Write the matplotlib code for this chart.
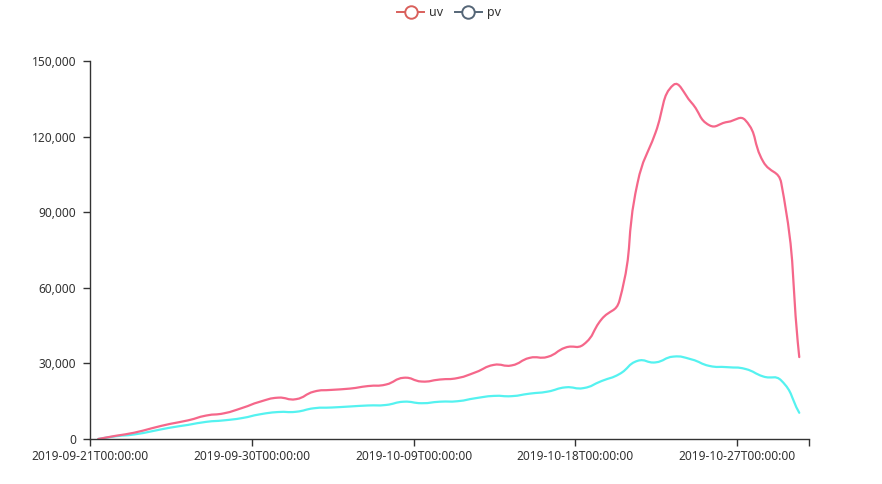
import numpy as np
import pandas as pd
import matplotlib
matplotlib.use("Agg")
import matplotlib.pyplot as plt
import matplotlib.dates as mdates
from matplotlib.path import Path
from matplotlib.patches import PathPatch
from matplotlib.lines import Line2D
from matplotlib.ticker import FuncFormatter

plt.rcParams['font.family'] = ['Noto Sans', 'DejaVu Sans']

# daily points (about 11:00 each day)
dates = pd.date_range("2019-09-21 11:00", periods=40, freq="D")

uv = [0, 1300, 2500, 4300, 6000, 7400, 9300, 10200, 12300, 14800,
      16400, 15800, 18800, 19500, 20000, 21000, 21600, 24300, 22800, 23600,
      24200, 26500, 29400, 29200, 32200, 32600, 36300, 37500, 47500, 55000,
      101500, 121500, 140500, 133500, 124500, 125800, 126500, 110000, 101500, 32500]
pv = [0, 1100, 1800, 3100, 4500, 5600, 6800, 7400, 8300, 9800,
      10700, 10800, 12200, 12500, 12900, 13300, 13500, 14800, 14200, 14800,
      15000, 16200, 17100, 17000, 18000, 18800, 20500, 20200, 23000, 25800,
      31000, 30400, 32700, 31600, 29000, 28500, 27800, 24800, 23200, 10400]

tick_dates = ["2019-09-21", "2019-09-30", "2019-10-09", "2019-10-18", "2019-10-27"]
x_min, x_max = "2019-09-21", "2019-10-31"
y_max = 150000

uv_col = "#f5678a"
pv_col = "#55f2f0"


def smooth_line(ax, xs, ys, sx, sy, color, smooth=0.5):
    # echarts-like bezier smoothing, computed in pixel-ish space
    p = np.column_stack([np.asarray(xs) * sx, np.asarray(ys, float) * sy])
    n = len(p)
    cin = np.zeros_like(p)
    cout = np.zeros_like(p)
    for i in range(n):
        prv = p[max(i - 1, 0)]
        nxt = p[min(i + 1, n - 1)]
        v = (nxt - prv) * smooth
        d0 = np.hypot(*(p[i] - prv))
        d1 = np.hypot(*(nxt - p[i]))
        r = d1 / (d0 + d1) if d0 + d1 > 0 else 0.5
        cin[i] = p[i] - v * (1 - r)
        cout[i] = p[i] + v * r
    verts = [p[0]]
    codes = [Path.MOVETO]
    for i in range(n - 1):
        verts += [cout[i], cin[i + 1], p[i + 1]]
        codes += [Path.CURVE4] * 3
    verts = np.array(verts) / [sx, sy]
    ax.add_patch(PathPatch(Path(verts, codes), fill=False, edgecolor=color,
                           lw=1.6, transform=ax.transData, capstyle="round"))


fig = plt.figure(figsize=(8.82, 4.84), dpi=100)
ax = fig.add_axes([90 / 882, 45 / 484, 719 / 882, 378 / 484])

xn = mdates.date2num(dates)
x0 = mdates.date2num(pd.Timestamp(x_min))
x1 = mdates.date2num(pd.Timestamp(x_max))
ax.set_xlim(x0, x1)
ax.set_ylim(0, y_max)

sx = 719 / (x1 - x0)
sy = 378 / y_max
smooth_line(ax, xn, pv, sx, sy, pv_col)
smooth_line(ax, xn, uv, sx, sy, uv_col)

ticks = [mdates.date2num(pd.Timestamp(d)) for d in tick_dates] + [x1]
ax.set_xticks(ticks)
ax.set_xticklabels([d + "T00:00:00" for d in tick_dates] + [""])
ax.set_yticks(np.arange(0, y_max + 1, 30000))
ax.yaxis.set_major_formatter(FuncFormatter(lambda v, _: f"{int(v):,}"))

for s in ["top", "right"]:
    ax.spines[s].set_visible(False)
for s in ["left", "bottom"]:
    ax.spines[s].set_color("#333333")
    ax.spines[s].set_linewidth(1)
ax.tick_params(axis="both", colors="#333333", length=5, width=1,
               labelsize=8.6, labelcolor="#333333", pad=3)
ax.tick_params(axis="y", pad=5)

handles = [
    Line2D([], [], color="#d9605c", lw=1.4, marker="o", markersize=9,
           markerfacecolor="white", markeredgewidth=1.4),
    Line2D([], [], color="#556677", lw=1.4, marker="o", markersize=9,
           markerfacecolor="white", markeredgewidth=1.4),
]
fig.legend(handles, ["uv", "pv"], loc="upper center", bbox_to_anchor=(0.509, 1.01),
           ncol=2, frameon=False, handlelength=2.2, handletextpad=0.4,
           columnspacing=0.9, fontsize=9, labelcolor="#333333")

fig.savefig("out.png", dpi=100)
